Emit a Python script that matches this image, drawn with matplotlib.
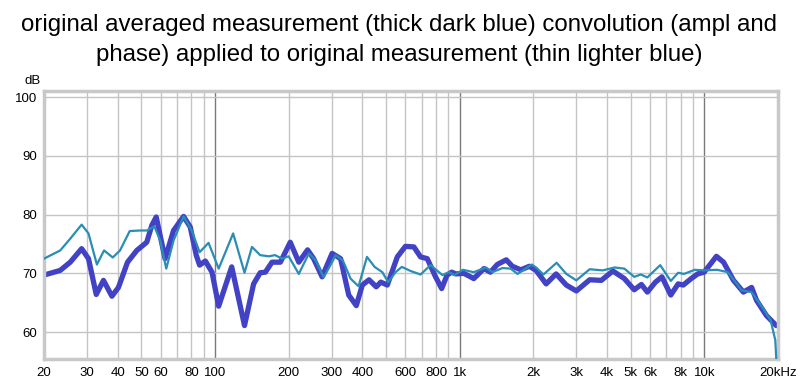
import matplotlib
matplotlib.use("Agg")
import matplotlib.pyplot as plt
from matplotlib.ticker import FixedLocator, NullFormatter, NullLocator

plt.rcParams['font.family'] = ['Liberation Sans', 'DejaVu Sans']

title_line1 = "original averaged measurement (thick dark blue) convolution (ampl and"
title_line2 = "phase) applied to original measurement (thin lighter blue)"

thick_freq = [20, 23.3, 25.6, 28.5, 30.4, 32.7, 35.0, 37.9, 40.3, 43.9, 47.9, 52.6, 55.2, 57.5,
              62.5, 67.7, 74.4, 79.2, 83.8, 86.5, 91.3, 97.2, 103.5, 117, 132, 143.8, 153, 160.6,
              171, 185, 203, 220, 239, 253, 274, 301, 326, 352, 378, 400, 426, 456, 476, 506,
              556, 600, 650, 692, 737, 797, 844, 888, 927, 965, 1040, 1142, 1256, 1336, 1424,
              1550, 1642, 1778, 1926, 2052, 2256, 2478, 2728, 2998, 3398, 3792, 4228, 4712,
              5168, 5530, 5848, 6312, 6710, 7290, 7816, 8200, 8834, 9390, 9980, 10600, 11200,
              11980, 13160, 14440, 15600, 16340, 17940, 19680]
thick_db = [69.7, 70.5, 71.9, 74.2, 72.5, 66.4, 68.8, 66.1, 67.6, 71.9, 73.9, 75.3, 78.2, 79.6,
            72.5, 77.3, 79.7, 77.9, 73.1, 71.4, 72.1, 70.2, 64.4, 71.1, 61.1, 68.2, 70.1, 70.2,
            71.9, 71.9, 75.3, 71.9, 74.0, 72.5, 69.4, 73.4, 72.5, 66.3, 64.5, 68.0, 68.9, 67.7,
            68.5, 68.0, 72.8, 74.6, 74.5, 72.8, 72.5, 69.4, 67.4, 69.7, 70.2, 69.9, 70.0, 69.1,
            70.8, 70.2, 71.5, 72.3, 71.2, 70.6, 71.2, 70.5, 68.2, 69.9, 68.0, 67.0, 68.9, 68.8,
            70.4, 69.1, 67.2, 68.1, 66.8, 68.5, 69.4, 66.3, 68.2, 68.0, 69.1, 69.9, 70.2, 71.6,
            72.9, 71.9, 68.8, 66.8, 67.6, 65.4, 62.8, 61.1]

thin_freq = [20, 23.3, 25.6, 28.5, 30.4, 32.9, 35.2, 38.2, 40.9, 44.8, 49.3, 52.6, 56.5, 59.7,
             63.2, 67.7, 74.4, 80.3, 86.5, 94.1, 103.5, 118.6, 132, 141.6, 153, 166, 176, 188,
             200, 220, 242, 258, 278, 301, 311, 333, 358, 386, 418, 449, 483, 510, 547, 580,
             630, 692, 760, 850, 905, 952, 1030, 1142, 1280, 1360, 1496, 1615, 1724, 1970,
             2052, 2200, 2490, 2728, 2998, 3398, 3840, 4300, 4712, 5168, 5500, 5848, 6600,
             7290, 7816, 8250, 9140, 9980, 11280, 12470, 13580, 14200, 15600, 17060, 18660,
             19500, 19680]
thin_db = [72.5, 73.9, 75.9, 78.3, 76.8, 71.5, 73.9, 72.7, 73.9, 77.2, 77.3, 77.3, 78.0, 75.6,
           70.8, 75.6, 79.7, 77.3, 73.6, 75.2, 70.8, 76.8, 70.1, 74.5, 73.1, 72.9, 73.1, 72.5,
           72.9, 69.9, 73.4, 72.2, 69.3, 71.9, 73.1, 72.2, 69.1, 67.8, 72.8, 71.1, 70.2, 68.5,
           70.2, 71.1, 70.4, 69.8, 71.4, 69.7, 70.2, 69.7, 70.6, 70.2, 71.0, 70.2, 70.9, 70.8,
           69.9, 71.5, 71.0, 69.8, 71.8, 69.9, 68.8, 70.7, 70.5, 71.0, 70.8, 69.4, 69.8, 69.3,
           71.4, 68.7, 70.1, 69.9, 70.6, 70.5, 70.6, 70.2, 68.2, 67.1, 66.8, 64.5, 62.0, 58.6,
           55.3]

x_tick_vals = [20, 30, 40, 50, 60, 80, 100, 200, 300, 400, 600, 800, 1000, 2000, 3000, 4000,
               5000, 6000, 8000, 10000, 20000]
x_tick_labels = ["20", "30", "40", "50", "60", "80", "100", "200", "300", "400", "600", "800",
                 "1k", "2k", "3k", "4k", "5k", "6k", "8k", "10k", "20kHz"]
x_grid_minor = [30, 40, 50, 60, 70, 80, 90, 200, 300, 400, 500, 600, 700, 800, 900,
                2000, 3000, 4000, 5000, 6000, 7000, 8000, 9000]
x_grid_major = [100, 1000, 10000]
y_tick_vals = [60, 70, 80, 90, 100]

fig = plt.figure(figsize=(8.0, 3.82), dpi=100)
ax = fig.add_axes([0.055, 0.0602, 0.9175, 0.702])
ax.set_xscale('log')
ax.set_xlim(20, 20000)
ax.set_ylim(55.4, 101.1)

for f in x_grid_minor:
    ax.axvline(f, color='#c4c4c4', lw=1.0, zorder=0)
for f in x_grid_major:
    ax.axvline(f, color='#7a7a7a', lw=1.0, zorder=0)
for v in y_tick_vals:
    ax.axhline(v, color='#c4c4c4', lw=1.0, zorder=0)

ax.plot(thin_freq, thin_db, color='#2a8db5', lw=1.6, zorder=3, solid_joinstyle='round')
ax.plot(thick_freq, thick_db, color='#4242c4', lw=3.8, zorder=2, solid_joinstyle='round',
        solid_capstyle='round')

ax.xaxis.set_major_locator(FixedLocator(x_tick_vals))
ax.xaxis.set_minor_locator(NullLocator())
ax.xaxis.set_minor_formatter(NullFormatter())
ax.set_xticklabels(x_tick_labels)
ax.set_yticks(y_tick_vals)
ax.set_yticklabels([str(v) for v in y_tick_vals])
ax.tick_params(axis='x', length=0, labelsize=9.5, colors='black', pad=6)
ax.tick_params(axis='y', length=0, labelsize=9.5, colors='black', pad=5)

for sp in ax.spines.values():
    sp.set_color('#c8c8c8')
    sp.set_linewidth(2.5)

fig.text(0.031, 0.788, "dB", fontsize=9.5, ha='left', va='center')
fig.text(0.499, 0.919, title_line1, fontsize=17.3, ha='center', va='baseline')
fig.text(0.499, 0.840, title_line2, fontsize=17.3, ha='center', va='baseline')

fig.savefig("out.png", dpi=100)
